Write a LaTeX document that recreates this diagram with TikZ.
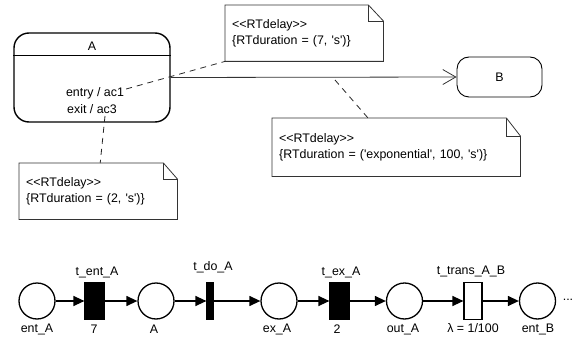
\documentclass[tikz,border=0pt]{standalone}
\usepackage{fontspec}
\setmainfont{Liberation Sans}[Ligatures=TeXOff]
\usetikzlibrary{arrows.meta,calc}
\begin{document}
\begin{tikzpicture}[x=1pt,y=-1pt,
  every node/.style={font=\fontsize{12.4}{16.5}\selectfont, inner sep=0pt},
  note/.style={anchor=north west, minimum height=56pt, inner xsep=7pt, align=left},
  noteline/.style={draw=black!80, line width=0.8pt},
  dashlink/.style={draw=black!85, line width=0.8pt, dash pattern=on 6pt off 5pt},
  place/.style={circle, draw, line width=1.3pt, minimum size=36pt},
  trbox/.style={rectangle, draw, line width=1.2pt, minimum height=37pt},
  arc/.style={line width=1.3pt, -{Triangle[length=11pt,width=10pt]}},
]
\useasboundingbox (0,0) rectangle (580,339);

% ---------- UML state machine ----------
\node (A) [draw, rounded corners=15pt, line width=1.4pt, minimum width=156pt, minimum height=89pt] at (92,77.5) {};
\draw[line width=1.4pt] ($(A.north west)+(0,23)$) -- ($(A.north east)+(0,23)$);
\node (Atitle) at (92,46) {A};
\node (entry) at (95,93) {entry / ac1};
\node (exit) at (92,109) {exit / ac3};

\node (B) [draw, rounded corners=12pt, line width=0.9pt, minimum width=85pt, minimum height=40pt] at (499.5,77) {B};

\draw[line width=0.8pt, draw=black!80, -{Straight Barb[length=13pt,width=15pt]}] (A.east) -- (B.west);
\coordinate (m) at (335,80);

% notes
\node (n1) [note, text width=144pt] at (225,5) {<<RTdelay>>\\\{RTduration = (7, 's')\}};
\draw[noteline] (n1.north west) -- ($(n1.north east)+(-15,0)$) -- ($(n1.north east)+(0,16)$) -- (n1.south east) -- (n1.south west) -- cycle;
\draw[noteline] ($(n1.north east)+(-15,0)$) -- ($(n1.north east)+(-15,16)$) -- ($(n1.north east)+(0,16)$);

\node (n2) [note, minimum height=58pt, text width=234pt] at (272,118) {<<RTdelay>>\\\{RTduration = ('exponential', 100, 's')\}};
\draw[noteline] (n2.north west) -- ($(n2.north east)+(-14,0)$) -- ($(n2.north east)+(0,18)$) -- (n2.south east) -- (n2.south west) -- cycle;
\draw[noteline] ($(n2.north east)+(-14,0)$) -- ($(n2.north east)+(-14,18)$) -- ($(n2.north east)+(0,18)$);

\node (n3) [note, text width=144pt] at (19,163) {<<RTdelay>>\\\{RTduration = (2, 's')\}};
\draw[noteline] (n3.north west) -- ($(n3.north east)+(-14,0)$) -- ($(n3.north east)+(0,16)$) -- (n3.south east) -- (n3.south west) -- cycle;
\draw[noteline] ($(n3.north east)+(-14,0)$) -- ($(n3.north east)+(-14,16)$) -- ($(n3.north east)+(0,16)$);

% dashed links
\coordinate (c1) at ($(entry.east)+(2,-4)$);
\draw[dashlink] (c1) -- (n1.south west);
\coordinate (c2) at ($(n2.north west)+(96,0)$);
\draw[dashlink] (m) -- (c2);
\coordinate (c3) at (105,116);
\draw[dashlink] (c3) -- ($(n3.north)+(2,0)$);

% ---------- Petri net ----------
\node (p1) [place] at (37,301) {};
\node (t1) [trbox, fill=black, minimum width=19pt] at (94.5,301) {};
\node (p2) [place] at (156,301) {};
\node (t2) [trbox, fill=black, minimum width=6pt] at (210,301) {};
\node (p3) [place] at (279,301) {};
\node (t3) [trbox, fill=black, minimum width=19pt] at (339.5,301) {};
\node (p4) [place] at (404.5,301) {};
\node (t4) [trbox, fill=white, minimum width=18pt] at (473,301) {};
\node (p5) [place] at (537.5,301) {};
\node (dots) [anchor=base] at (568,300) {...};

\draw[arc] (p1) -- (t1);
\draw[arc] (t1) -- (p2);
\draw[arc] (p2) -- (t2);
\draw[arc] (t2) -- (p3);
\draw[arc] (p3) -- (t3);
\draw[arc] (t3) -- (p4);
\draw[arc] (p4) -- (t4);
\draw[arc] (t4) -- (p5);

\node (lt1) at (97,272) {t\_ent\_A};
\node (lt2) at (213,267) {t\_do\_A};
\node (lt3) at (341,272) {t\_ex\_A};
\node (lt4) at (471,271) {t\_trans\_A\_B};

\node (lp1) at (37,329) {ent\_A};
\node (d1) at (94,329) {7};
\node (lp2) at (154,329) {A};
\node (lp3) at (277,329) {ex\_A};
\node (d3) at (337,329) {2};
\node (lp4) at (403,329) {out\_A};
\node (d4) at (473,328) {λ = 1/100};
\node (lp5) at (538,329) {ent\_B};
\end{tikzpicture}
\end{document}
